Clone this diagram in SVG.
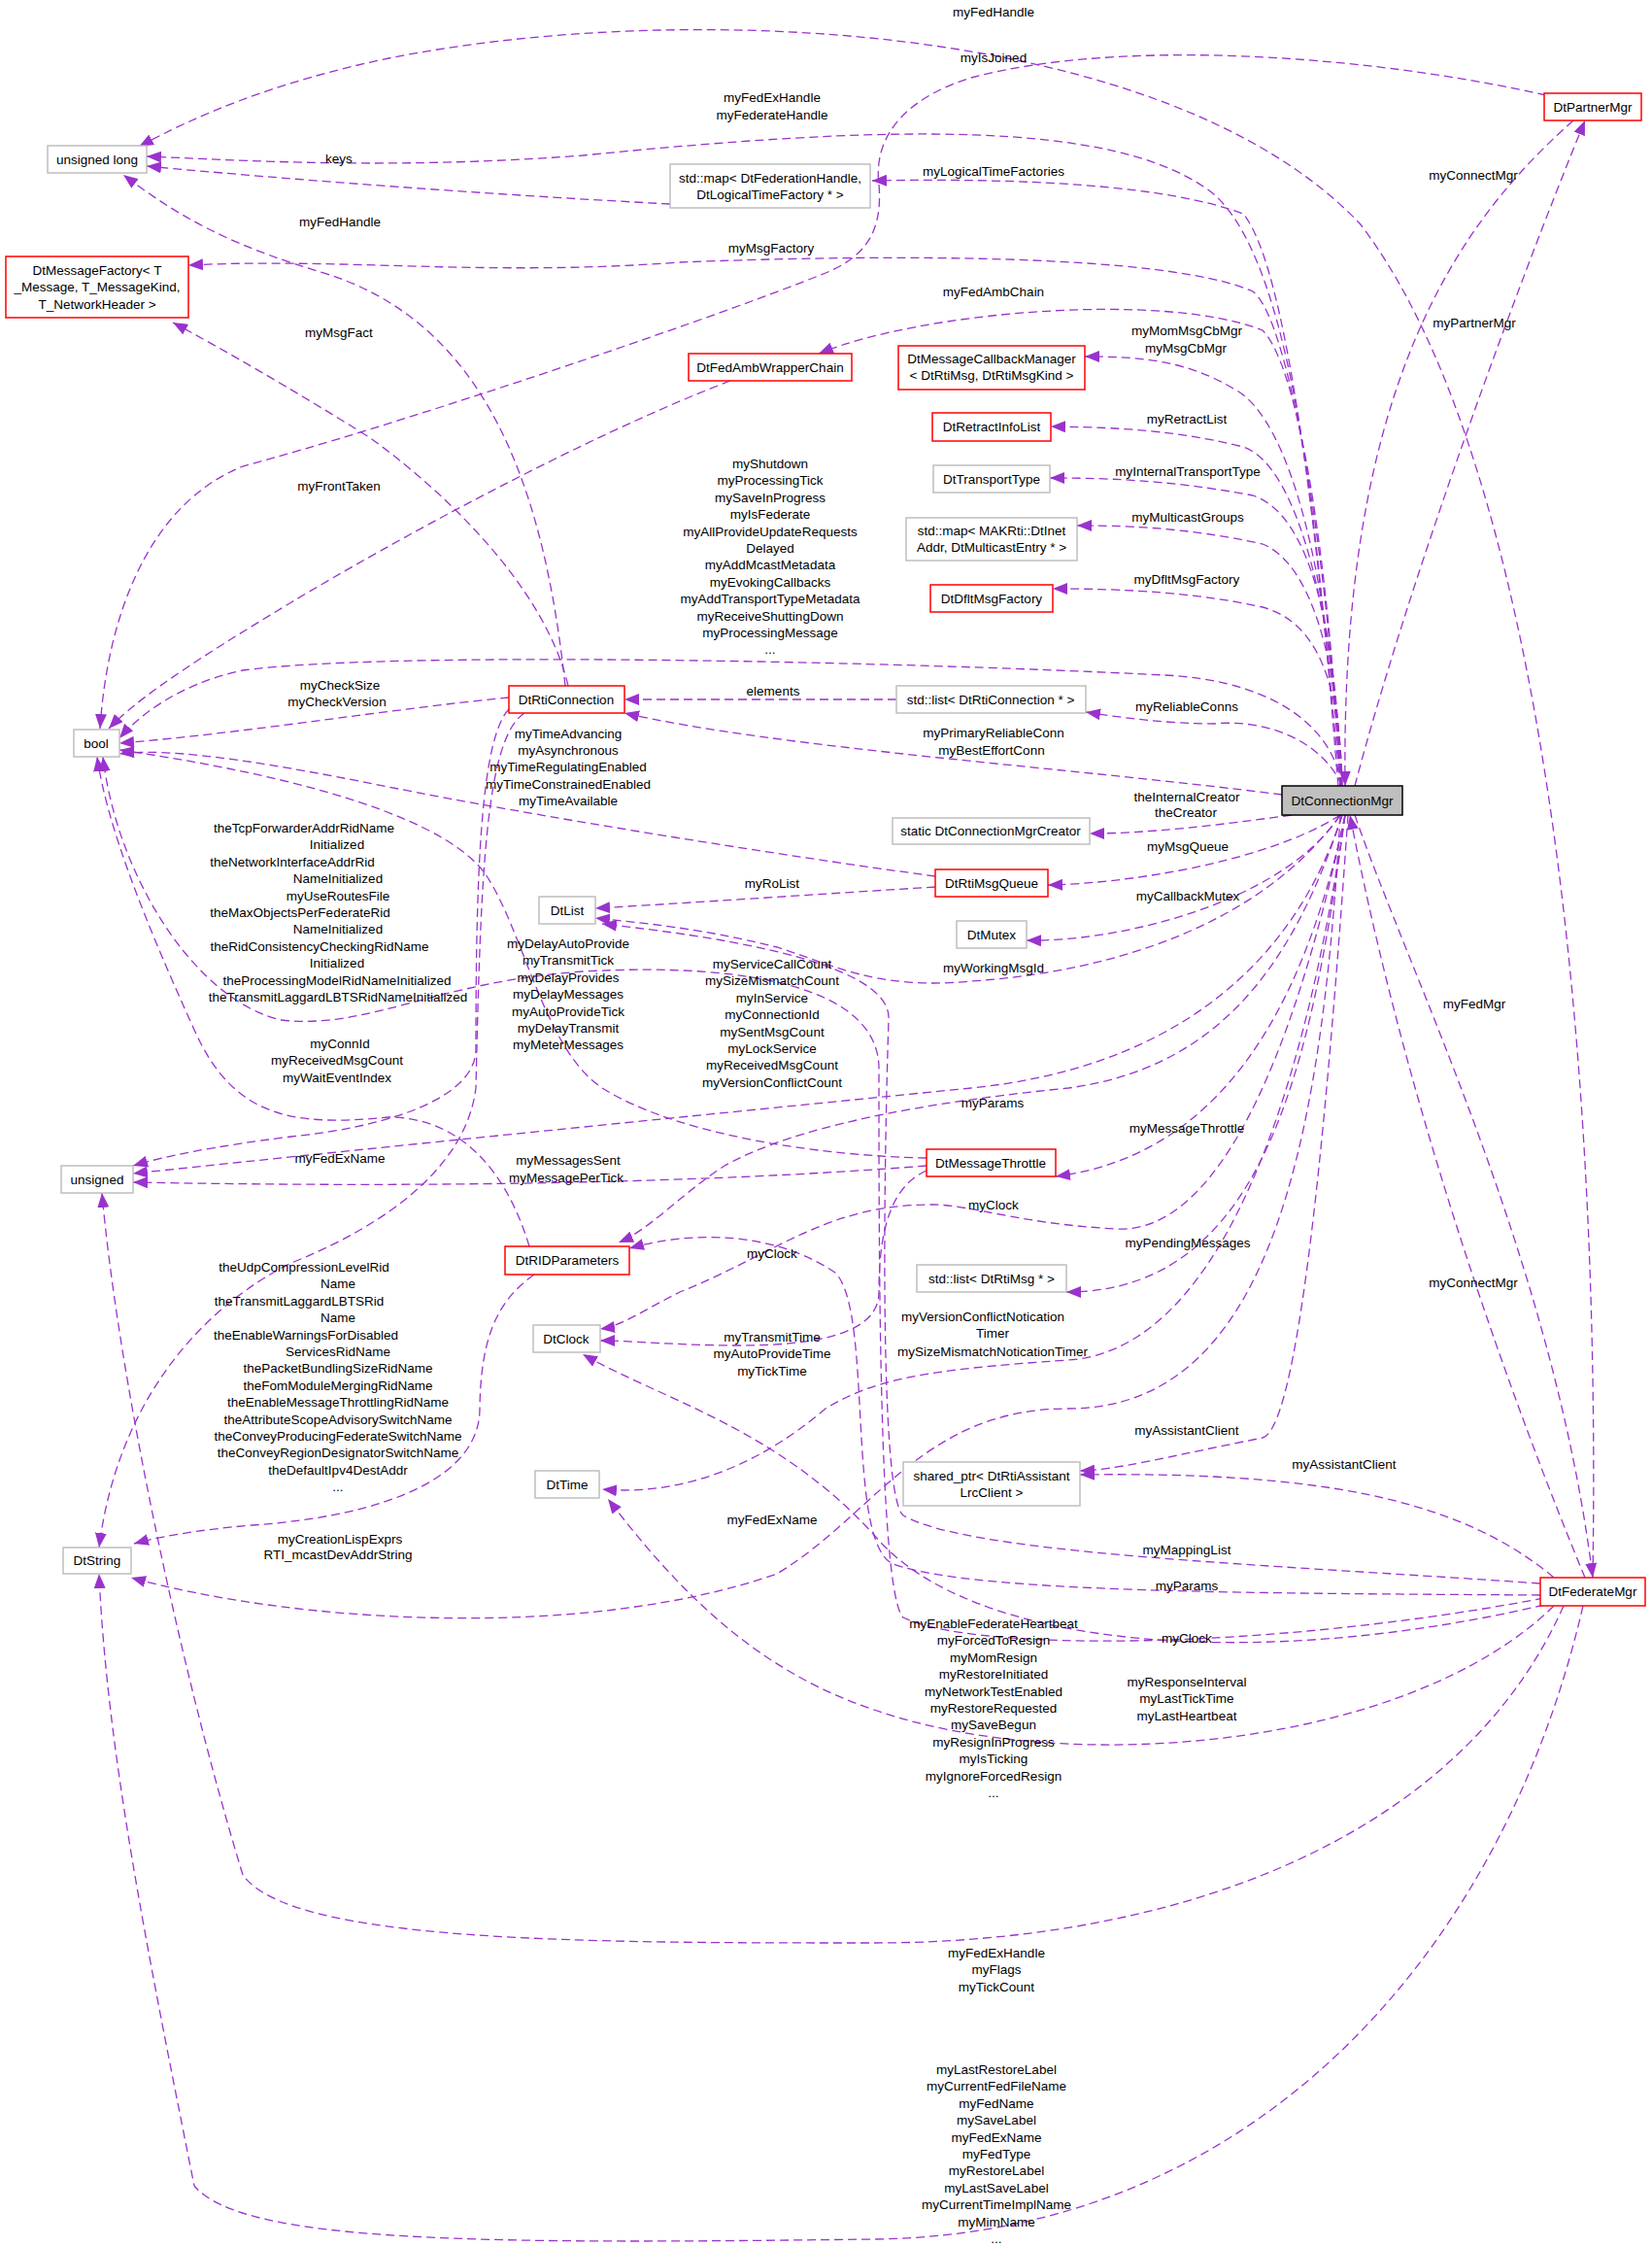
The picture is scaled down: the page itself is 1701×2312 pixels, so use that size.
<svg xmlns="http://www.w3.org/2000/svg" width="1701" height="2312" viewBox="0 0 1701 2312">
<style>
text{font-family:"Liberation Sans",Arial,sans-serif;font-size:13.5px;fill:#000;text-anchor:middle}
.r{fill:#fff;stroke:#ff0000;stroke-width:1.5}
.g{fill:#fff;stroke:#bfbfbf;stroke-width:1.5}
.m{fill:#bfbfbf;stroke:#000;stroke-width:1.5}
#edges path{fill:none;stroke:#9a32cd;stroke-width:1.3;stroke-dasharray:9,5;marker-end:url(#a)}
</style>
<defs><marker id="a" markerUnits="userSpaceOnUse" markerWidth="16" markerHeight="12" refX="15" refY="6" orient="auto"><path d="M0,0L15,6L0,12z" fill="#9a32cd"/></marker></defs>
<rect width="1701" height="2312" fill="#fff"/>
<g id="edges">
<path d="M1640,1624 C1650,1000 1570,450 1400,230 C1200,20 700,0 400,60 C280,85 200,120 143,151"/>
<path d="M1592,98 C1400,55 1150,40 1000,80 C920,105 900,150 905,190 C910,250 880,270 840,285 C700,340 400,440 250,480 C150,520 110,640 103,750"/>
<path d="M1378,809 C1360,600 1340,280 1250,200 C1150,120 900,130 600,160 C400,175 250,165 151,161"/>
<path d="M690,210 C500,200 300,185 151,171"/>
<path d="M582,706 C560,500 500,330 330,280 C230,250 180,220 127,180"/>
<path d="M1380,809 C1360,600 1330,280 1280,220 C1200,190 1050,183 898,186"/>
<path d="M1380,809 C1370,600 1330,330 1290,300 C1200,260 900,262 700,270 C500,285 350,265 194,273"/>
<path d="M585,706 C560,600 450,500 380,450 C300,400 230,360 178,332"/>
<path d="M1380,809 C1370,600 1340,380 1300,340 C1200,300 950,320 843,364"/>
<path d="M752,392 C600,450 400,560 300,620 C200,680 140,720 112,750"/>
<path d="M1380,809 C1370,600 1330,430 1270,400 C1220,370 1170,367 1117,367"/>
<path d="M1381,809 C1375,650 1340,480 1280,460 C1200,440 1130,440 1082,439"/>
<path d="M1381,809 C1376,650 1350,530 1290,510 C1200,493 1130,492 1081,492"/>
<path d="M1382,809 C1378,680 1350,580 1300,560 C1220,542 1150,541 1109,541"/>
<path d="M1382,809 C1380,700 1355,640 1300,625 C1220,607 1130,606 1084,606"/>
<path d="M1382,809 C1370,740 1300,700 1200,695 C900,680 400,670 250,690 C180,705 140,740 123,760"/>
<path d="M524,718 C400,730 250,755 123,765"/>
<path d="M923,720 L643,720"/>
<path d="M1382,809 C1360,760 1300,740 1250,745 C1200,745 1150,738 1118,733"/>
<path d="M1320,818 C1100,790 800,770 643,734"/>
<path d="M963,902 C800,880 550,840 400,810 C250,780 170,770 123,776"/>
<path d="M1330,839 C1250,850 1180,858 1122,858"/>
<path d="M1380,839 C1300,890 1150,910 1079,911"/>
<path d="M963,913 C850,920 700,930 613,935"/>
<path d="M1380,839 C1320,930 1150,970 1057,968"/>
<path d="M1380,839 C1300,950 1150,1000 1000,1010 C900,1020 850,990 800,975 C720,955 660,950 613,945"/>
<path d="M1382,839 C1330,1000 1200,1100 1000,1120 C700,1150 400,1180 137,1208"/>
<path d="M1586,1630 C1300,1610 1000,1600 930,1560 C905,1540 910,1200 915,1050 C920,985 700,960 620,951"/>
<path d="M1590,1645 C1300,1700 1000,1700 930,1665 C905,1640 905,1300 905,1100 C905,1020 780,990 600,1000 C450,1010 380,1060 290,1050 C200,1030 120,900 106,779"/>
<path d="M545,1283 C520,1200 470,1150 400,1150 C300,1160 240,1150 200,1060 C150,950 110,850 100,779"/>
<path d="M954,1192 C850,1190 700,1170 620,1120 C560,1080 540,960 500,900 C450,830 250,790 123,772"/>
<path d="M524,730 C495,760 490,900 490,1080 C490,1130 400,1160 300,1170 C220,1180 170,1190 137,1200"/>
<path d="M954,1200 C700,1220 400,1222 137,1217"/>
<path d="M1382,839 C1330,1000 1250,1100 1100,1120 C900,1140 800,1170 746,1200 C700,1230 670,1265 637,1279"/>
<path d="M1385,839 C1340,1050 1250,1190 1087,1211"/>
<path d="M1385,839 C1330,1100 1250,1270 1150,1265 C1050,1260 1000,1240 960,1240 C850,1240 800,1290 700,1330 C660,1350 640,1365 618,1368"/>
<path d="M954,1205 C920,1220 905,1260 905,1330 C905,1370 850,1385 760,1385 C700,1385 650,1380 618,1380"/>
<path d="M1385,839 C1340,1150 1250,1390 1100,1400 C950,1410 900,1420 850,1450 C780,1510 700,1540 620,1533"/>
<path d="M1385,839 C1350,1100 1300,1330 1098,1330"/>
<path d="M1388,839 C1370,1100 1340,1470 1300,1480 C1200,1500 1150,1513 1112,1514"/>
<path d="M1600,1624 C1500,1540 1350,1515 1112,1518"/>
<path d="M1395,839 C1450,1000 1600,1300 1640,1624"/>
<path d="M1632,1624 C1560,1450 1450,1150 1390,839"/>
<path d="M1395,809 C1450,600 1560,300 1632,124"/>
<path d="M1620,124 C1500,230 1380,400 1385,809"/>
<path d="M1586,1642 C1300,1640 1000,1640 920,1610 C870,1590 900,1350 860,1310 C800,1270 720,1265 648,1285"/>
<path d="M1590,1652 C1300,1720 1000,1700 900,1580 C800,1470 680,1440 600,1394"/>
<path d="M1600,1653 C1450,1800 1100,1830 900,1760 C780,1720 700,1640 626,1543"/>
<path d="M1380,839 C1360,1200 1300,1450 1100,1450 C950,1450 900,1560 800,1620 C600,1690 300,1670 135,1624"/>
<path d="M550,1312 C510,1340 495,1380 494,1450 C494,1520 400,1560 260,1570 C200,1575 160,1583 138,1589"/>
<path d="M540,734 C500,760 495,900 490,1120 C480,1200 400,1260 300,1300 C200,1350 120,1450 102,1593"/>
<path d="M1610,1653 C1500,1900 1200,2000 900,2000 C600,2000 300,2000 250,1930 C180,1700 120,1400 105,1228"/>
<path d="M1630,1653 C1550,2000 1300,2300 900,2305 C500,2310 250,2310 200,2250 C150,2000 110,1800 102,1620"/>
</g>
<g id="labels">
<text x="1023" y="17">myFedHandle</text>
<text x="1023" y="64">myIsJoined</text>
<text x="795" y="105">myFedExHandle</text><text x="795" y="123">myFederateHandle</text>
<text x="349" y="168">keys</text>
<text x="1023" y="181">myLogicalTimeFactories</text>
<text x="1517" y="185">myConnectMgr</text>
<text x="350" y="233">myFedHandle</text>
<text x="794" y="260">myMsgFactory</text>
<text x="1023" y="305">myFedAmbChain</text>
<text x="1518" y="337">myPartnerMgr</text>
<text x="1222" y="345">myMomMsgCbMgr</text><text x="1221" y="363">myMsgCbMgr</text>
<text x="349" y="347">myMsgFact</text>
<text x="1222" y="436">myRetractList</text>
<text x="1223" y="490">myInternalTransportType</text>
<text x="349" y="505">myFrontTaken</text>
<text x="1223" y="537">myMulticastGroups</text>
<text x="1222" y="601">myDfltMsgFactory</text>
<text x="793" y="482">myShutdown<tspan x="793" dy="17.4">myProcessingTick</tspan><tspan x="793" dy="17.4">mySaveInProgress</tspan><tspan x="793" dy="17.4">myIsFederate</tspan><tspan x="793" dy="17.4">myAllProvideUpdateRequests</tspan><tspan x="793" dy="17.4">Delayed</tspan><tspan x="793" dy="17.4">myAddMcastMetadata</tspan><tspan x="793" dy="17.4">myEvokingCallbacks</tspan><tspan x="793" dy="17.4">myAddTransportTypeMetadata</tspan><tspan x="793" dy="17.4">myReceiveShuttingDown</tspan><tspan x="793" dy="17.4">myProcessingMessage</tspan><tspan x="793" dy="17.4">...</tspan></text>
<text x="350" y="710">myCheckSize</text><text x="347" y="727">myCheckVersion</text>
<text x="796" y="716">elements</text>
<text x="1222" y="732">myReliableConns</text>
<text x="1023" y="759">myPrimaryReliableConn</text><text x="1021" y="777">myBestEffortConn</text>
<text x="585" y="760">myTimeAdvancing<tspan x="585" dy="17">myAsynchronous</tspan><tspan x="585" dy="17">myTimeRegulatingEnabled</tspan><tspan x="585" dy="17.5">myTimeConstrainedEnabled</tspan><tspan x="585" dy="17.3">myTimeAvailable</tspan></text>
<text x="1222" y="825">theInternalCreator</text><text x="1221" y="841">theCreator</text>
<text x="1223" y="876">myMsgQueue</text>
<text x="313" y="857">theTcpForwarderAddrRidName<tspan x="347" dy="17.4">Initialized</tspan><tspan x="301" dy="17.4">theNetworkInterfaceAddrRid</tspan><tspan x="348" dy="17.4">NameInitialized</tspan><tspan x="348" dy="17.4">myUseRoutesFile</tspan><tspan x="309" dy="17.4">theMaxObjectsPerFederateRid</tspan><tspan x="348" dy="17.4">NameInitialized</tspan><tspan x="329" dy="17.4">theRidConsistencyCheckingRidName</tspan><tspan x="347" dy="17.4">Initialized</tspan><tspan x="347" dy="17.4">theProcessingModelRidNameInitialized</tspan><tspan x="348" dy="17.4">theTransmitLaggardLBTSRidNameInitialized</tspan></text>
<text x="795" y="914">myRoList</text>
<text x="1223" y="927">myCallbackMutex</text>
<text x="585" y="976">myDelayAutoProvide<tspan x="585" dy="17.4">myTransmitTick</tspan><tspan x="585" dy="17.4">myDelayProvides</tspan><tspan x="585" dy="17.4">myDelayMessages</tspan><tspan x="585" dy="17.4">myAutoProvideTick</tspan><tspan x="585" dy="17.4">myDelayTransmit</tspan><tspan x="585" dy="17.4">myMeterMessages</tspan></text>
<text x="795" y="997">myServiceCallCount<tspan x="795" dy="17.4">mySizeMismatchCount</tspan><tspan x="795" dy="17.4">myInService</tspan><tspan x="795" dy="17.4">myConnectionId</tspan><tspan x="795" dy="17.4">mySentMsgCount</tspan><tspan x="795" dy="17.4">myLockService</tspan><tspan x="795" dy="17.4">myReceivedMsgCount</tspan><tspan x="795" dy="17.4">myVersionConflictCount</tspan></text>
<text x="1023" y="1001">myWorkingMsgId</text>
<text x="1518" y="1038">myFedMgr</text>
<text x="350" y="1079">myConnId<tspan x="347" dy="17.4">myReceivedMsgCount</tspan><tspan x="347" dy="17.4">myWaitEventIndex</tspan></text>
<text x="1022" y="1140">myParams</text>
<text x="1222" y="1166">myMessageThrottle</text>
<text x="350" y="1197">myFedExName</text>
<text x="585" y="1199">myMessagesSent</text><text x="583" y="1217">myMessagePerTick</text>
<text x="1023" y="1245">myClock</text>
<text x="1223" y="1284">myPendingMessages</text>
<text x="795" y="1295">myClock</text>
<text x="313" y="1309">theUdpCompressionLevelRid<tspan x="348" dy="17.4">Name</tspan><tspan x="308" dy="17.4">theTransmitLaggardLBTSRid</tspan><tspan x="348" dy="17.4">Name</tspan><tspan x="315" dy="17.4">theEnableWarningsForDisabled</tspan><tspan x="348" dy="17.4">ServicesRidName</tspan><tspan x="348" dy="17.4">thePacketBundlingSizeRidName</tspan><tspan x="348" dy="17.4">theFomModuleMergingRidName</tspan><tspan x="348" dy="17.4">theEnableMessageThrottlingRidName</tspan><tspan x="348" dy="17.4">theAttributeScopeAdvisorySwitchName</tspan><tspan x="348" dy="17.4">theConveyProducingFederateSwitchName</tspan><tspan x="348" dy="17.4">theConveyRegionDesignatorSwitchName</tspan><tspan x="348" dy="17.4">theDefaultIpv4DestAddr</tspan><tspan x="348" dy="17.4">...</tspan></text>
<text x="1517" y="1325">myConnectMgr</text>
<text x="1012" y="1360">myVersionConflictNotication</text><text x="1022" y="1377">Timer</text><text x="1022" y="1396">mySizeMismatchNoticationTimer</text>
<text x="795" y="1381">myTransmitTime<tspan x="795" dy="17.4">myAutoProvideTime</tspan><tspan x="795" dy="17.4">myTickTime</tspan></text>
<text x="1222" y="1477">myAssistantClient</text>
<text x="1384" y="1512">myAssistantClient</text>
<text x="795" y="1569">myFedExName</text>
<text x="350" y="1589">myCreationLispExprs</text><text x="348" y="1605">RTI_mcastDevAddrString</text>
<text x="1222" y="1600">myMappingList</text>
<text x="1222" y="1637">myParams</text>
<text x="1023" y="1676">myEnableFederateHeartbeat<tspan x="1023" dy="17.4">myForcedToResign</tspan><tspan x="1023" dy="17.4">myMomResign</tspan><tspan x="1023" dy="17.4">myRestoreInitiated</tspan><tspan x="1023" dy="17.4">myNetworkTestEnabled</tspan><tspan x="1023" dy="17.4">myRestoreRequested</tspan><tspan x="1023" dy="17.4">mySaveBegun</tspan><tspan x="1023" dy="17.4">myResignInProgress</tspan><tspan x="1023" dy="17.4">myIsTicking</tspan><tspan x="1023" dy="17.4">myIgnoreForcedResign</tspan><tspan x="1023" dy="17.4">...</tspan></text>
<text x="1222" y="1691">myClock</text>
<text x="1222" y="1736">myResponseInterval<tspan x="1222" dy="17.4">myLastTickTime</tspan><tspan x="1222" dy="17.4">myLastHeartbeat</tspan></text>
<text x="1026" y="2015">myFedExHandle<tspan x="1026" dy="17.4">myFlags</tspan><tspan x="1026" dy="17.4">myTickCount</tspan></text>
<text x="1026" y="2135">myLastRestoreLabel<tspan x="1026" dy="17.4">myCurrentFedFileName</tspan><tspan x="1026" dy="17.4">myFedName</tspan><tspan x="1026" dy="17.4">mySaveLabel</tspan><tspan x="1026" dy="17.4">myFedExName</tspan><tspan x="1026" dy="17.4">myFedType</tspan><tspan x="1026" dy="17.4">myRestoreLabel</tspan><tspan x="1026" dy="17.4">myLastSaveLabel</tspan><tspan x="1026" dy="17.4">myCurrentTimeImplName</tspan><tspan x="1026" dy="17.4">myMimName</tspan><tspan x="1026" dy="17.4">...</tspan></text>
</g>
<g id="DtConnectionMgr"><rect class="m" x="1320" y="809" width="124" height="30"/><text x="1382" y="829">DtConnectionMgr</text></g>
<g id="unsignedlong"><rect class="g" x="49" y="150" width="102" height="28"/><text x="100" y="169">unsigned long</text></g>
<g id="DtMessageFactory"><rect class="r" x="6" y="264" width="188" height="63"/><text x="100" y="283">DtMessageFactory&lt; T<tspan x="100" dy="17.4">_Message, T_MessageKind,</tspan><tspan x="100" dy="17.4">T_NetworkHeader &gt;</tspan></text></g>
<g id="mapFed"><rect class="g" x="690" y="169" width="206" height="45"/><text x="793" y="188">std::map&lt; DtFederationHandle,<tspan x="793" dy="17.4">DtLogicalTimeFactory * &gt;</tspan></text></g>
<g id="DtFedAmbWrapperChain"><rect class="r" x="709" y="364" width="168" height="28"/><text x="793" y="383">DtFedAmbWrapperChain</text></g>
<g id="DtRtiConnection"><rect class="r" x="524" y="706" width="119" height="28"/><text x="583" y="725">DtRtiConnection</text></g>
<g id="bool"><rect class="g" x="76" y="751" width="47" height="28"/><text x="99" y="770">bool</text></g>
<g id="DtPartnerMgr"><rect class="r" x="1590" y="96" width="100" height="28"/><text x="1640" y="115">DtPartnerMgr</text></g>
<g id="DtMessageCallbackManager"><rect class="r" x="925" y="356" width="192" height="45"/><text x="1021" y="374">DtMessageCallbackManager<tspan x="1021" dy="17.4">&lt; DtRtiMsg, DtRtiMsgKind &gt;</tspan></text></g>
<g id="DtRetractInfoList"><rect class="r" x="960" y="425" width="122" height="29"/><text x="1021" y="444">DtRetractInfoList</text></g>
<g id="DtTransportType"><rect class="g" x="961" y="479" width="120" height="28"/><text x="1021" y="498">DtTransportType</text></g>
<g id="mapMAK"><rect class="g" x="933" y="533" width="176" height="44"/><text x="1021" y="551">std::map&lt; MAKRti::DtInet<tspan x="1021" dy="17.4">Addr, DtMulticastEntry * &gt;</tspan></text></g>
<g id="DtDfltMsgFactory"><rect class="r" x="958" y="602" width="126" height="28"/><text x="1021" y="621">DtDfltMsgFactory</text></g>
<g id="listConn"><rect class="g" x="923" y="706" width="195" height="28"/><text x="1020" y="725">std::list&lt; DtRtiConnection * &gt;</text></g>
<g id="Creator"><rect class="g" x="919" y="842" width="203" height="27"/><text x="1020" y="860">static DtConnectionMgrCreator</text></g>
<g id="DtRtiMsgQueue"><rect class="r" x="963" y="895" width="116" height="28"/><text x="1021" y="914">DtRtiMsgQueue</text></g>
<g id="DtMutex"><rect class="g" x="985" y="948" width="72" height="28"/><text x="1021" y="967">DtMutex</text></g>
<g id="DtList"><rect class="g" x="555" y="923" width="58" height="28"/><text x="584" y="942">DtList</text></g>
<g id="unsigned"><rect class="g" x="63" y="1200" width="74" height="28"/><text x="100" y="1219">unsigned</text></g>
<g id="DtMessageThrottle"><rect class="r" x="954" y="1183" width="133" height="28"/><text x="1020" y="1202">DtMessageThrottle</text></g>
<g id="DtRIDParameters"><rect class="r" x="520" y="1283" width="128" height="29"/><text x="584" y="1302">DtRIDParameters</text></g>
<g id="listMsg"><rect class="g" x="944" y="1302" width="154" height="28"/><text x="1021" y="1321">std::list&lt; DtRtiMsg * &gt;</text></g>
<g id="DtClock"><rect class="g" x="549" y="1364" width="69" height="28"/><text x="583" y="1383">DtClock</text></g>
<g id="DtTime"><rect class="g" x="551" y="1514" width="66" height="28"/><text x="584" y="1533">DtTime</text></g>
<g id="sharedptr"><rect class="g" x="930" y="1505" width="182" height="45"/><text x="1021" y="1524">shared_ptr&lt; DtRtiAssistant<tspan x="1021" dy="17.4">LrcClient &gt;</tspan></text></g>
<g id="DtString"><rect class="g" x="65" y="1593" width="70" height="27"/><text x="100" y="1611">DtString</text></g>
<g id="DtFederateMgr"><rect class="r" x="1586" y="1624" width="108" height="29"/><text x="1640" y="1643">DtFederateMgr</text></g>
</svg>
